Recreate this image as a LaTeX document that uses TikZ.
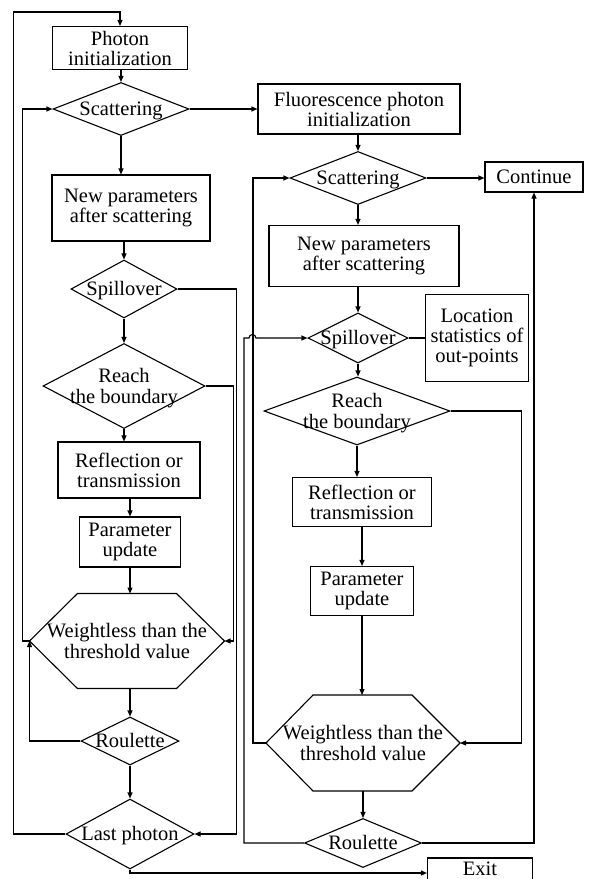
\documentclass[tikz,border=0pt]{standalone}
\usepackage{fontspec}
\setmainfont{Liberation Serif}
\usetikzlibrary{shapes.geometric,arrows.meta,calc}
\newcommand\ztext[1]{\smash{\makebox[0pt]{\raisebox{-8pt}{\begin{tabular}{@{}c@{}}#1\end{tabular}}}}}
\begin{document}
\begin{tikzpicture}[x=1pt,y=-1pt, line width=1.1pt,
  every node/.style={font=\fontsize{20.5}{20}\selectfont},
  box/.style={draw, rectangle, inner sep=0pt, align=center},
  dia/.style={draw, diamond, inner sep=0pt},
  hexa/.style={rectangle, inner sep=0pt, outer sep=0pt},
  arr/.style={-{Triangle[length=6pt,width=5pt]}}]
\useasboundingbox (0,0) rectangle (590,879);
\clip (0,0) rectangle (590,879);
% left column
\node[box, minimum width=135pt, minimum height=43pt] (photonL) at (120,48) {Photon\\initialization};
\node[dia, minimum width=136pt, minimum height=53pt] (scatL) at (121,109) {\ztext{Scattering}};
\node[box, minimum width=158pt, minimum height=66pt] (newL) at (131,208) {New parameters\\after scattering};
\node[dia, minimum width=106pt, minimum height=58pt] (spillL) at (124,289) {\ztext{Spillover}};
\node[dia, minimum width=162pt, minimum height=85pt] (reachL) at (124,386) {\ztext{Reach\\the boundary}};
\node[box, minimum width=142pt, minimum height=56pt] (reflL) at (129,470) {Reflection or\\transmission};
\node[box, minimum width=101pt, minimum height=50pt] (paramL) at (130,542) {Parameter\\update};
\node[hexa, minimum width=195pt, minimum height=95pt] (hexL) at (127,641) {\ztext{Weightless than the\\threshold value}};
\draw (hexL.west) -- ($(hexL.north west)+(48,0)$) -- ($(hexL.north east)+(-48,0)$) -- (hexL.east)
  -- ($(hexL.south east)+(-48,0)$) -- ($(hexL.south west)+(48,0)$) -- cycle;
\node[dia, minimum width=98pt, minimum height=48pt] (rouL) at (130,741) {\ztext{Roulette}};
\node[dia, minimum width=128pt, minimum height=70pt] (lastL) at (130,834) {\ztext{Last photon}};
% right column
\node[box, minimum width=202pt, minimum height=50pt] (fluor) at (359,109) {Fluorescence photon\\initialization};
\node[dia, minimum width=136pt, minimum height=53pt] (scatR) at (358,178) {\ztext{Scattering}};
\node[box, minimum width=98pt, minimum height=30pt] (cont) at (534,177) {Continue};
\node[box, minimum width=190pt, minimum height=61pt] (newR) at (364,256) {New parameters\\after scattering};
\node[dia, minimum width=100pt, minimum height=50pt] (spillR) at (358,338) {\ztext{Spillover}};
\node[box, minimum width=103pt, minimum height=87pt] (loc) at (477,338) {Location\\statistics of\\out-points};
\node[dia, minimum width=186pt, minimum height=68pt] (reachR) at (357,411) {\ztext{Reach\\the boundary}};
\node[box, minimum width=139pt, minimum height=49pt] (reflR) at (362,502) {Reflection or\\transmission};
\node[box, minimum width=103pt, minimum height=49pt] (paramR) at (362,591) {Parameter\\update};
\node[hexa, minimum width=194pt, minimum height=96pt] (hexR) at (363,743) {\ztext{Weightless than the\\threshold value}};
\draw (hexR.west) -- ($(hexR.north west)+(47,0)$) -- ($(hexR.north east)+(-48,0)$) -- (hexR.east)
  -- ($(hexR.south east)+(-48,0)$) -- ($(hexR.south west)+(47,0)$) -- cycle;
\node[dia, minimum width=117pt, minimum height=49pt] (rouR) at (363,843) {\ztext{Roulette}};
\node[box, minimum width=105pt, minimum height=22pt] (exit) at (480,869) {Exit};
% left connectors
\draw[arr] (lastL.west) -- ++(-52,0) |- ($(photonL.north)+(0,-14)$) -- (photonL.north);
\draw[arr] (scatL.north |- photonL.south) -- (scatL.north);
\draw[arr] (scatL.east) -- (scatL.east -| fluor.west);
\draw[arr] (scatL.south) -- (scatL.south |- newL.north);
\draw[arr] (spillL.north |- newL.south) -- (spillL.north);
\draw[arr] (spillL.south) -- (reachL.north);
\draw[arr] (reachL.south) -- (reachL.south |- reflL.north);
\draw[arr] (paramL.north |- reflL.south) -- (paramL.north);
\draw[arr] (paramL.south) -- (paramL.south |- hexL.north);
\draw[arr] (rouL.north |- hexL.south) -- (rouL.north);
\draw[arr] (rouL.south) -- (lastL.north);
\draw[arr] (spillL.east) -- ++(59,0) |- (lastL.east);
\draw[arr] (reachL.east) -- ++(28,0) |- (hexL.east);
\draw[arr] (hexL.west) -- ++(-7,0) |- (scatL.west);
\draw[arr] (rouL.west) -| (hexL.west);
\draw[arr] (lastL.south) |- ($(exit.west)+(0,4)$);
% right connectors
\draw[arr] (scatR.north |- fluor.south) -- (scatR.north);
\draw[arr] (scatR.east) -- (scatR.east -| cont.west);
\draw[arr] (scatR.south) -- (scatR.south |- newR.north);
\draw[arr] (spillR.north |- newR.south) -- (spillR.north);
\draw (spillR.east) -- (loc.west);
\draw[arr] (spillR.south) -- (spillR.south |- reachR.north);
\draw[arr] (reachR.south) -- (reachR.south |- reflR.north);
\draw[arr] (paramR.north |- reflR.south) -- (paramR.north);
\draw[arr] (paramR.south) -- (paramR.south |- hexR.north);
\draw[arr] (rouR.north |- hexR.south) -- (rouR.north);
\draw[arr] (reachR.east) -- ++(71,0) |- (hexR.east);
\draw[arr] (hexR.west) -- ++(-13,0) |- (scatR.west);
\draw[arr] (rouR.west) -- ++(-60,0) |- ($(spillR.west)+(-58.5,0)$) arc(180:360:3.5) -- (spillR.west);
\draw[arr] (rouR.east) -| (cont.south);
\end{tikzpicture}
\end{document}
